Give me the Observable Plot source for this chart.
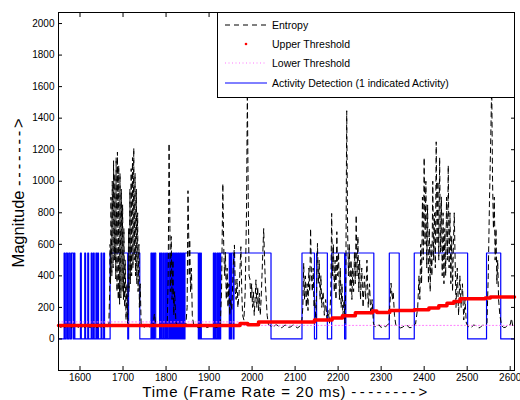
<!DOCTYPE html>
<html><head><meta charset="utf-8">
<script src="https://cdn.jsdelivr.net/npm/d3@7"></script>
<script src="https://cdn.jsdelivr.net/npm/@observablehq/plot@0.6"></script>
<style>
html,body{margin:0;padding:0;background:#fff;}
#wrap{position:relative;width:520px;height:400px;font-family:"Liberation Sans",Arial,sans-serif;}
#legend{position:absolute;left:217px;top:12px;}
</style></head><body><div id="wrap"></div>
<script>
// ---- tick labels / axis text ----
const xTicks = [1600,1700,1800,1900,2000,2100,2200,2300,2400,2500,2600];
const yTicks = [0,200,400,600,800,1000,1200,1400,1600,1800,2000];
const xDomain = [1550, 2610];
const yDomain = [-200, 2070];
const xLabel = "Time (Frame Rate = 20 ms) -------->";
const yLabel = "Magnitude ------->";
const seriesNames = ["Entropy", "Upper Threshold", "Lower Threshold", "Activity Detection (1 indicated Activity)"];

// ---- Entropy (frame, value) ----
const entropy = [
[1552,82],[1556,72],[1560,88],[1564,70],[1568,84],[1572,76],[1576,92],[1580,70],[1584,80],[1588,74],[1592,86],[1596,72],[1600,90],[1604,75],[1608,82],[1612,70],[1616,84],[1620,78],[1624,72],[1628,88],[1632,74],[1636,80],[1640,70],[1644,86],[1648,76],[1652,82],[1656,72],[1660,84],[1664,78],[1667,95],
[1669,300],[1670,600],[1671,350],[1672,900],[1674,400],[1675,1000],[1677,450],[1678,1130],[1680,500],[1681,1050],[1683,380],[1684,1150],[1686,300],[1687,1185],[1689,250],[1690,1100],[1692,220],[1693,1050],[1695,260],[1696,950],[1698,300],[1699,850],[1701,250],[1702,700],[1704,200],[1705,500],[1707,120],[1709,350],[1711,100],
[1713,700],[1714,300],[1716,950],[1717,350],[1719,1080],[1720,400],[1722,1150],[1723,450],[1725,1210],[1726,500],[1728,1050],[1729,400],[1731,950],[1732,350],[1734,800],[1735,300],[1737,600],[1738,200],[1740,350],[1742,100],[1745,80],
[1750,75],[1755,88],[1760,70],[1765,82],[1770,95],[1773,160],[1776,90],[1780,78],[1785,85],[1790,72],[1795,90],[1800,80],[1803,110],
[1805,400],[1807,1240],[1809,700],[1810,300],[1812,650],[1814,250],[1816,500],[1818,150],[1820,300],[1823,100],[1830,85],[1835,74],[1840,78],[1846,90],
[1849,200],[1851,940],[1853,600],[1854,400],[1855,630],[1857,300],[1859,450],[1861,150],[1864,90],[1870,80],[1875,72],[1880,75],[1885,88],[1890,85],[1895,72],[1900,78],[1905,86],[1910,82],[1915,72],[1920,74],[1926,90],
[1929,300],[1932,985],[1934,600],[1936,400],[1938,550],[1940,250],[1942,450],[1944,200],[1946,350],[1948,150],[1950,250],[1953,180],[1956,450],[1959,596],[1961,300],[1963,250],[1965,380],[1967,200],[1970,300],[1972,450],[1974,585],[1976,300],[1978,150],[1981,120],[1984,300],[1987,800],[1989,1560],[1991,900],[1993,400],[1995,380],[1997,250],[1999,350],[2001,200],[2003,300],[2005,150],[2007,250],[2009,375],[2011,200],[2013,330],[2015,180],[2017,290],[2019,150],[2021,250],[2023,400],[2025,550],[2027,700],[2029,500],[2031,350],[2033,250],[2035,150],[2038,90],
[2045,80],[2050,75],[2055,90],[2060,85],[2065,70],[2070,72],[2075,86],[2080,88],[2085,74],[2090,76],[2095,90],[2100,82],[2105,70],[2110,78],[2115,95],
[2118,200],[2120,480],[2122,250],[2124,400],[2126,200],[2128,350],[2130,180],[2132,450],[2134,300],[2136,700],[2138,400],[2140,300],[2142,450],[2144,200],[2146,250],[2148,120],[2150,300],[2152,606],[2154,350],[2156,500],[2158,250],[2160,400],[2162,200],[2165,300],[2168,150],[2171,250],[2174,120],[2177,180],[2180,100],
[2183,300],[2185,796],[2187,400],[2189,600],[2191,300],[2193,500],[2195,250],[2197,680],[2199,400],[2201,550],[2203,250],[2205,450],[2207,200],[2209,350],[2211,150],[2214,250],[2216,100],[2218,400],[2220,1447],[2222,700],[2224,400],[2226,600],[2228,300],[2230,500],[2232,250],[2234,450],[2236,300],[2238,550],[2240,350],[2242,785],[2244,400],[2246,650],[2248,300],[2250,500],[2252,250],[2255,450],[2258,200],[2261,400],[2264,250],[2267,500],[2270,200],[2273,350],[2276,150],[2279,250],[2282,100],
[2285,80],[2290,75],[2295,90],[2300,72],[2305,85],[2310,78],[2315,88],[2318,100],
[2320,200],[2323,354],[2326,250],[2328,300],[2331,150],[2334,90],[2340,80],[2345,70],[2350,75],[2355,86],[2360,88],[2365,72],[2370,72],[2375,84],[2380,95],
[2385,200],[2388,400],[2390,250],[2392,600],[2394,350],[2396,900],[2398,500],[2400,1150],[2402,600],[2404,1000],[2406,450],[2408,850],[2410,350],[2412,700],[2414,300],[2416,600],[2418,400],[2420,1000],[2422,500],[2424,800],[2426,450],[2428,1250],[2430,600],[2432,1000],[2434,500],[2436,1150],[2438,550],[2440,900],[2442,400],[2444,800],[2446,350],[2448,700],[2450,400],[2452,900],[2454,500],[2456,1100],[2458,450],[2460,800],[2462,350],[2464,650],[2466,300],[2468,600],[2470,800],[2472,500],[2474,200],[2477,450],[2480,150],[2483,400],[2486,200],[2489,350],[2492,120],[2495,250],[2498,100],
[2502,80],[2506,72],[2510,75],[2515,88],[2520,85],[2525,70],[2530,72],[2535,86],[2540,88],[2546,100],
[2549,400],[2552,900],[2555,1300],[2557,1620],[2559,1000],[2561,700],[2563,900],[2565,500],[2567,700],[2569,350],[2571,500],[2573,250],[2576,150],[2580,85],[2585,72],[2590,75],[2595,88],[2600,90],[2603,130],[2606,80],[2610,78]
];

// ---- Upper threshold: step start frame and value ----
const upperStart = [1550,1972,1990,2015,2145,2186,2210,2240,2280,2290,2320,2377,2411,2434,2453,2469,2484,2542,2554,2610];
const upperValue = [85,  98,  90,  107, 120, 133, 147, 166, 178, 168, 180, 185, 196, 210, 226, 238, 255, 259, 266, 266];

// ---- Lower threshold ----
const lowerStart = [1550, 1970, 2610];
const lowerValue = [108, 86, 86];

// ---- Activity detection: intervals where activity = 1 ----
const activityLevel = 545;
const activityOn = [
[1563,1565],[1568,1571],[1574,1577],[1580,1584],[1586,1588],
[1601,1603],[1611,1613],[1618,1620],[1626,1628],[1631,1633],[1637,1639],[1641,1643],[1649,1651],[1655,1657],
[1670,1711],[1713,1739],
[1765,1767],[1769,1771],[1773,1776],[1785,1787],[1789,1791],[1794,1796],[1799,1801],[1803,1805],
[1808,1810],[1812,1814],[1816,1818],[1820,1822],[1824,1826],[1828,1830],[1832,1834],[1836,1838],[1840,1842],[1844,1875],
[1877,1878],[1880,1882],
[1910,1912],[1914,1916],[1919,1921],[1923,1925],
[1927,1947],[1949,1950],[1952,1956],[1958,2044],
[2116,2145],[2150,2175],[2185,2215],[2218,2283],[2319,2342],[2377,2501],[2545,2578]
];

// ---- build tables for the library ----
const entropyData = entropy.map(([t, v]) => ({t, v}));
const upperData = upperStart.map((t, i) => ({t, v: upperValue[i]}));
const lowerData = lowerStart.map((t, i) => ({t, v: lowerValue[i]}));
const activityData = [{t: xDomain[0], v: 0}];
for (const [a, b] of activityOn) {
  activityData.push({t: a, v: 0}, {t: a, v: activityLevel}, {t: b, v: activityLevel}, {t: b, v: 0});
}
activityData.push({t: xDomain[1], v: 0});

const chart = Plot.plot({
  width: 520, height: 400,
  marginLeft: 58, marginRight: 6, marginTop: 12, marginBottom: 30,
  style: {fontFamily: "'Liberation Sans', Arial, sans-serif", fontSize: "10px", background: "white", color: "black"},
  x: {domain: xDomain, label: null},
  y: {domain: yDomain, label: null},
  marks: [
    Plot.line(activityData, {x: "t", y: "v", stroke: "#0000ff", strokeWidth: 1.2}),
    Plot.line(entropyData, {x: "t", y: "v", stroke: "black", strokeWidth: 1, strokeDasharray: "5,4"}),
    Plot.line(lowerData, {x: "t", y: "v", curve: "step-after", stroke: "#ff77ff", strokeWidth: 1, strokeDasharray: "1,2.5"}),
    Plot.line(upperData, {x: "t", y: "v", curve: "step-after", stroke: "#ff0000", strokeWidth: 3.5}),
    Plot.frame({stroke: "black", strokeWidth: 1}),
    Plot.axisX({anchor: "bottom", ticks: xTicks, tickSize: -4, tickPadding: 7.5, tickFormat: d => String(d)}),
    Plot.axisX({anchor: "top", ticks: xTicks, tickSize: -4, tickFormat: () => ""}),
    Plot.axisY({anchor: "left", ticks: yTicks, tickSize: -4, tickPadding: 8, tickFormat: d => String(d)}),
    Plot.axisY({anchor: "right", ticks: yTicks, tickSize: -4, tickFormat: () => ""}),
    Plot.text([xLabel], {text: d => d, frameAnchor: "bottom", dy: 22, lineAnchor: "middle", textAnchor: "middle", fontSize: 15}),
    Plot.text([yLabel], {text: d => d, frameAnchor: "left", dx: -40, rotate: -90, lineAnchor: "middle", textAnchor: "middle", fontSize: 16.5})
  ]
});
const wrap = document.getElementById("wrap");
wrap.appendChild(chart);

// widen the axis titles and their arrow dashes, as in the reference
function spaceArrow(label, wordSpacing, arrowSpacing) {
  d3.select(chart).selectAll("text").filter(function() { return this.textContent === label; })
    .each(function() {
      const i = label.lastIndexOf(" ");
      const t = d3.select(this);
      t.text(null);
      t.append("tspan").attr("letter-spacing", wordSpacing).text(label.slice(0, i + 1));
      t.append("tspan").attr("letter-spacing", arrowSpacing).text(label.slice(i + 1));
    });
}
spaceArrow(xLabel, 0.8, 3.4);
spaceArrow(yLabel, 0, 2.8);

// ---- legend overlay ----
const lg = d3.select(wrap).append("svg").attr("id", "legend").attr("width", 298).attr("height", 86);
lg.append("rect").attr("x", 0.5).attr("y", 0.5).attr("width", 297).attr("height", 85).attr("fill", "white").attr("stroke", "black").attr("stroke-width", 1);
const rowY = [13, 32, 51, 71];
lg.append("line").attr("x1", 8).attr("x2", 50).attr("y1", rowY[0]).attr("y2", rowY[0]).attr("stroke", "black").attr("stroke-dasharray", "5,4");
lg.append("circle").attr("cx", 29).attr("cy", rowY[1]).attr("r", 1.3).attr("fill", "#ff0000");
lg.append("line").attr("x1", 8).attr("x2", 50).attr("y1", rowY[2]).attr("y2", rowY[2]).attr("stroke", "#ff77ff").attr("stroke-dasharray", "1,2.5");
lg.append("line").attr("x1", 8).attr("x2", 50).attr("y1", rowY[3]).attr("y2", rowY[3]).attr("stroke", "#0000ff").attr("stroke-width", 1);
seriesNames.forEach((s, i) => {
  lg.append("text").attr("x", 55).attr("y", rowY[i]).attr("dy", "0.35em")
    .attr("font-family", "'Liberation Sans', Arial, sans-serif").attr("font-size", 10.5).attr("fill", "black").text(s);
});
</script></body></html>
